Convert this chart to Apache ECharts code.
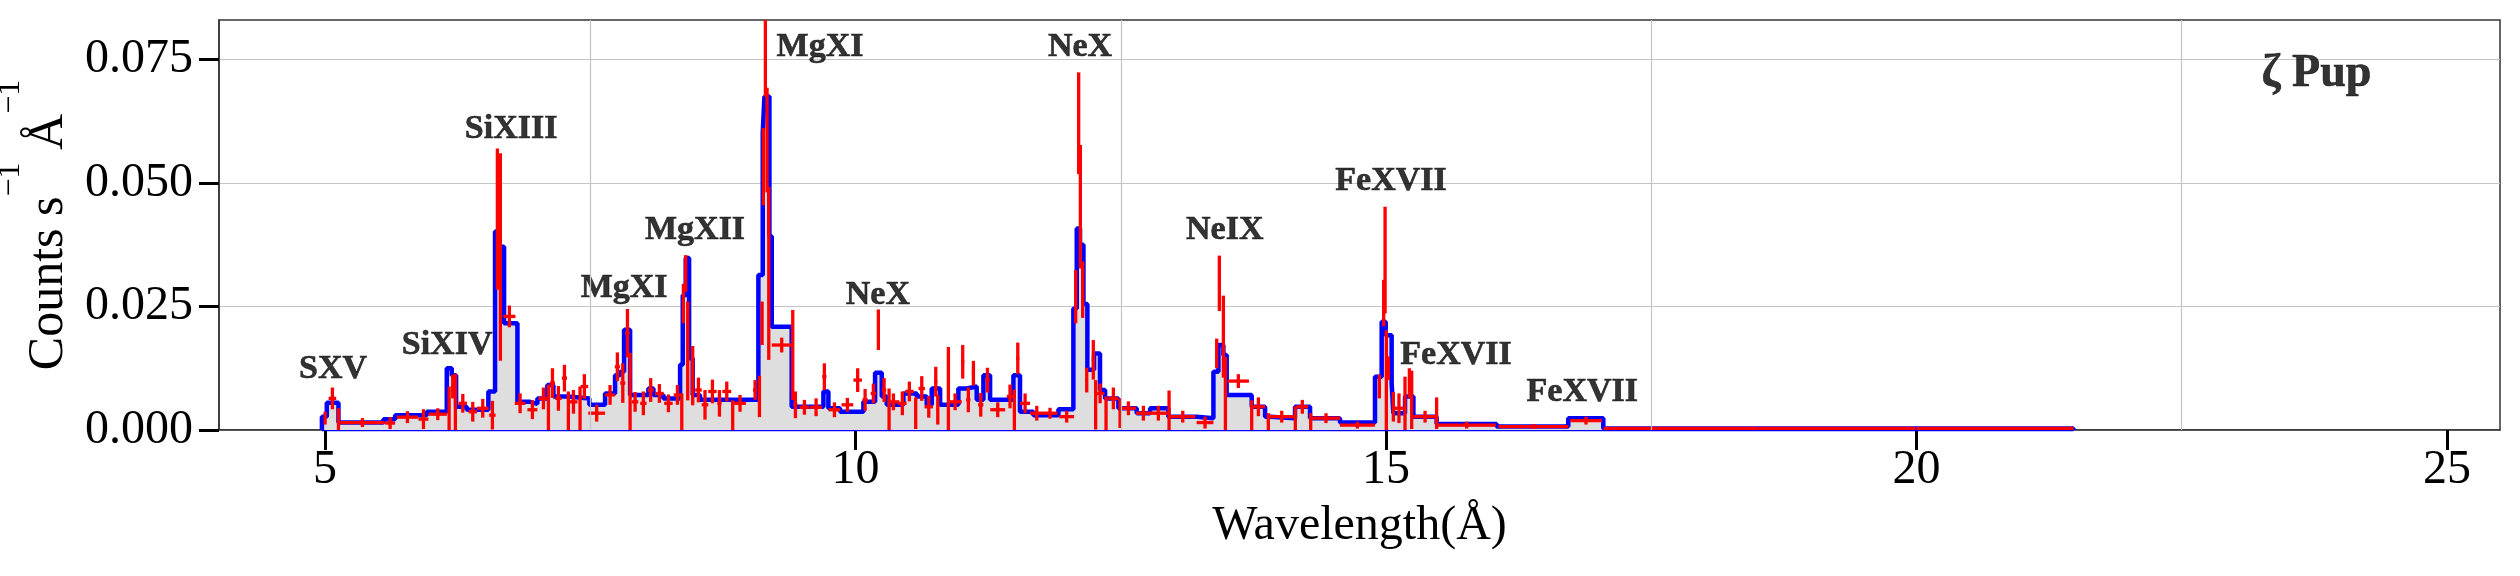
<!DOCTYPE html>
<html>
<head>
<meta charset="utf-8">
<script src="https://cdn.jsdelivr.net/npm/echarts@6/dist/echarts.min.js"></script>
<style>
html, body { margin: 0; padding: 0; background: #fff; }
#spectrum { width: 2520px; height: 576px; }
</style>
</head>
<body>
<div id="spectrum"></div>
<script>
// model spectrum (blue histogram): bin edges (Å) and flux in each bin
const modelEdges = [4.97, 5.016, 5.126, 5.55, 5.66, 5.958, 6.147, 6.194, 6.235, 6.335, 6.539, 6.602, 6.643, 6.687, 6.813, 6.932,
  7.001, 7.095, 7.152, 7.293, 7.491, 7.639, 7.733, 7.78, 7.818, 7.875, 8.047, 8.095, 8.189, 8.346, 8.371, 8.399, 8.431, 8.465,
  8.534, 9.084, 9.125, 9.141, 9.188, 9.21, 9.398, 9.697, 9.744, 9.854, 10.074, 10.184, 10.247, 10.294, 10.451, 10.577, 10.671,
  10.718, 10.797, 10.969, 11.048, 11.142, 11.205, 11.268, 11.488, 11.55, 11.676, 11.912, 12.053, 12.085, 12.116, 12.148, 12.185,
  12.248, 12.304, 12.352, 12.477, 12.65, 12.776, 12.948, 13.216, 13.373, 13.42, 13.467, 13.498, 13.734, 13.86, 13.907, 14.142,
  14.284, 14.566, 14.896, 14.959, 14.997, 15.053, 15.069, 15.179, 15.258, 15.477, 16.043, 16.718, 17.048, 21.48]
const modelFlux = [0.0027, 0.0055, 0.0015, 0.0022, 0.0030, 0.0037, 0.0125, 0.0111, 0.0047, 0.0041, 0.0078, 0.0402, 0.0371, 0.0216,
  0.0057, 0.0053, 0.0064, 0.0091, 0.0068, 0.0064, 0.0051, 0.0074, 0.0111, 0.0118, 0.0203, 0.0071, 0.0084, 0.0071, 0.0064, 0.0132,
  0.0273, 0.0348, 0.0145, 0.0071, 0.0061, 0.0314, 0.0601, 0.0675, 0.0392, 0.0209, 0.0047, 0.0078, 0.0044, 0.0037, 0.0057, 0.0116,
  0.0068, 0.0051, 0.0074, 0.0068, 0.0051, 0.0084, 0.0051, 0.0084, 0.0088, 0.0061, 0.0111, 0.0061, 0.0111, 0.0037, 0.0030, 0.0042,
  0.0246, 0.0408, 0.0375, 0.0255, 0.0122, 0.0155, 0.0081, 0.0064, 0.0044, 0.0034, 0.0044, 0.0027, 0.0024, 0.0118, 0.0172, 0.0152,
  0.0071, 0.0047, 0.0027, 0.0024, 0.0047, 0.0024, 0.0015, 0.0108, 0.0219, 0.0192, 0.0095, 0.0034, 0.0068, 0.0027, 0.0012, 0.0007,
  0.0024, 0.0003]

// observed spectrum (red crosses): bin centre, half bin width, flux, 1-sigma error
const dataWave = [5.0, 5.069, 5.126, 5.352, 5.613, 5.776, 5.927, 6.062, 6.169, 6.203, 6.228, 6.298, 6.392, 6.486, 6.577, 6.624,
  6.652, 6.737, 6.838, 6.954, 7.058, 7.105, 7.143, 7.199, 7.256, 7.293, 7.341, 7.403, 7.444, 7.56, 7.686, 7.755, 7.806, 7.85,
  7.875, 7.922, 8.0, 8.069, 8.151, 8.236, 8.321, 8.362, 8.377, 8.399, 8.418, 8.465, 8.519, 8.581, 8.651, 8.717, 8.786, 8.842,
  8.911, 9.053, 9.094, 9.119, 9.131, 9.15, 9.166, 9.182, 9.304, 9.408, 9.433, 9.518, 9.628, 9.706, 9.801, 9.923, 10.02, 10.09,
  10.168, 10.215, 10.269, 10.316, 10.357, 10.441, 10.507, 10.567, 10.624, 10.69, 10.756, 10.775, 10.875, 10.938, 11.01, 11.063,
  11.111, 11.18, 11.243, 11.34, 11.456, 11.497, 11.529, 11.598, 11.708, 11.833, 11.99, 12.075, 12.103, 12.119, 12.141, 12.179,
  12.241, 12.263, 12.305, 12.361, 12.43, 12.493, 12.572, 12.713, 12.854, 12.955, 13.084, 13.294, 13.404, 13.429, 13.467, 13.486,
  13.608, 13.734, 13.797, 13.891, 14.017, 14.145, 14.211, 14.29, 14.434, 14.73, 14.937, 14.978, 14.991, 15.003, 15.022, 15.069,
  15.122, 15.179, 15.22, 15.242, 15.368, 15.477, 15.76, 16.389, 16.885, 17.78, 19.25, 20.74]
const dataHalfWidth = [0.01, 0.036, 0.01, 0.21, 0.047, 0.1, 0.047, 0.086, 0.01, 0.015, 0.01, 0.04, 0.04, 0.055, 0.03, 0.012,
  0.012, 0.057, 0.05, 0.047, 0.047, 0.01, 0.024, 0.03, 0.024, 0.01, 0.038, 0.01, 0.036, 0.079, 0.047, 0.024, 0.024, 0.02,
  0.01, 0.03, 0.03, 0.028, 0.04, 0.04, 0.035, 0.008, 0.01, 0.01, 0.01, 0.012, 0.031, 0.031, 0.04, 0.02, 0.042, 0.01,
  0.055, 0.02, 0.01, 0.008, 0.006, 0.006, 0.006, 0.006, 0.094, 0.01, 0.02, 0.047, 0.055, 0.02, 0.055, 0.055, 0.04, 0.025,
  0.025, 0.01, 0.02, 0.01, 0.055, 0.04, 0.04, 0.01, 0.03, 0.04, 0.015, 0.01, 0.01, 0.063, 0.015, 0.02,
  0.015, 0.025, 0.02, 0.07, 0.03, 0.01, 0.015, 0.047, 0.063, 0.07, 0.07, 0.008, 0.008, 0.008, 0.008, 0.012,
  0.015, 0.01, 0.04, 0.01, 0.047, 0.01, 0.07, 0.07, 0.086, 0.01, 0.118, 0.079, 0.01, 0.008, 0.01, 0.008,
  0.1, 0.01, 0.063, 0.015, 0.118, 0.01, 0.055, 0.01, 0.134, 0.165, 0.01, 0.006, 0.006, 0.006, 0.01, 0.012,
  0.055, 0.008, 0.008, 0.008, 0.11, 0.01, 0.275, 0.33, 0.149, 0.73, 0.74, 0.74]
const dataFlux = [0.0024, 0.0064, 0.0022, 0.0015, 0.0014, 0.0026, 0.0022, 0.0032, 0.0044, 0.0088, 0.0057, 0.0054, 0.0037, 0.0044,
  0.0030, 0.0427, 0.0350, 0.0230, 0.0054, 0.0041, 0.0064, 0.0046, 0.0095, 0.0064, 0.0105, 0.0039, 0.0057, 0.0044, 0.0088,
  0.0034, 0.0071, 0.0128, 0.0095, 0.0196, 0.0078, 0.0057, 0.0054, 0.0081, 0.0074, 0.0054, 0.0071, 0.0037, 0.0256, 0.0317,
  0.0160, 0.0110, 0.0081, 0.0051, 0.0078, 0.0054, 0.0078, 0.0030, 0.0054, 0.0081, 0.0068, 0.0216, 0.0533, 0.0753, 0.0587,
  0.0317, 0.0172, 0.0152, 0.0051, 0.0046, 0.0046, 0.0108, 0.0041, 0.0051, 0.0101, 0.0061, 0.0074, 0.0203, 0.0081, 0.0042,
  0.0057, 0.0054, 0.0078, 0.0034, 0.0084, 0.0047, 0.0098, 0.0041, 0.0084, 0.0057, 0.0138, 0.0061, 0.0115, 0.0051, 0.0101,
  0.0041, 0.0068, 0.0041, 0.0145, 0.0054, 0.0034, 0.0034, 0.0027, 0.0270, 0.0621, 0.0452, 0.0284, 0.0101, 0.0142, 0.0051,
  0.0074, 0.0034, 0.0064, 0.0034, 0.0044, 0.0034, 0.0034, 0.0040, 0.0027, 0.0015, 0.0155, 0.0297, 0.0189, 0.0074, 0.0099,
  0.0030, 0.0047, 0.0017, 0.0027, 0.0024, 0.0047, 0.0017, 0.0024, 0.0010, 0.0088, 0.0257, 0.0344, 0.0101, 0.0125, 0.0047,
  0.0044, 0.0054, 0.0095, 0.0061, 0.0027, 0.0034, 0.0010, 0.0007, 0.0019, 0.0003, 0.0003, 0.0003]
const dataErr = [0.0013, 0.0022, 0.0022, 0.0009, 0.0012, 0.0012, 0.0020, 0.0012, 0.0044, 0.0024, 0.0057, 0.0019, 0.0020, 0.0019,
  0.0029, 0.0143, 0.0210, 0.0022, 0.0020, 0.0019, 0.0022, 0.0046, 0.0030, 0.0025, 0.0027, 0.0039, 0.0024, 0.0044, 0.0025,
  0.0017, 0.0020, 0.0029, 0.0040, 0.0049, 0.0078, 0.0020, 0.0024, 0.0024, 0.0019, 0.0018, 0.0020, 0.0037, 0.0040, 0.0037,
  0.0100, 0.0060, 0.0025, 0.0030, 0.0024, 0.0027, 0.0020, 0.0030, 0.0017, 0.0020, 0.0042, 0.0044, 0.0078, 0.0078, 0.0106,
  0.0175, 0.0015, 0.0091, 0.0027, 0.0015, 0.0018, 0.0027, 0.0015, 0.0014, 0.0024, 0.0022, 0.0020, 0.0041, 0.0024, 0.0042,
  0.0017, 0.0024, 0.0020, 0.0032, 0.0025, 0.0022, 0.0030, 0.0030, 0.0084, 0.0017, 0.0034, 0.0025, 0.0025, 0.0024, 0.0025,
  0.0015, 0.0024, 0.0041, 0.0032, 0.0020, 0.0015, 0.0011, 0.0012, 0.0054, 0.0103, 0.0125, 0.0057, 0.0025, 0.0040, 0.0050,
  0.0020, 0.0034, 0.0022, 0.0030, 0.0014, 0.0015, 0.0015, 0.0040, 0.0012, 0.0012, 0.0030, 0.0056, 0.0083, 0.0074, 0.0014,
  0.0030, 0.0019, 0.0017, 0.0012, 0.0024, 0.0014, 0.0017, 0.0010, 0.0007, 0.0024, 0.0047, 0.0108, 0.0101, 0.0024, 0.0030,
  0.0030, 0.0054, 0.0030, 0.0059, 0.0012, 0.0032, 0.0007, 0.0005, 0.0008, 0.0002, 0.0002, 0.0002]

// line identifications
const lineNames = ['SXV', 'SiXIV', 'SiXIII', 'MgXI', 'MgXII', 'MgXI', 'NeX', 'NeX', 'NeIX', 'FeXVII', 'FeXVII', 'FeXVII']
const lineWave = [5.075, 6.15, 6.753, 7.818, 8.487, 9.665, 10.21, 12.116, 13.48, 15.047, 15.66, 16.85]
const lineFlux = [0.0123, 0.0172, 0.0609, 0.0287, 0.0405, 0.0775, 0.0273, 0.0775, 0.0405, 0.0504, 0.0152, 0.0077]

const xTicks = [5, 10, 15, 20, 25]
const yTicks = [0, 0.025, 0.05, 0.075]
const xGrid = [7.5, 12.5, 17.5, 22.5]

const FONT = 'Liberation Serif'
const yMax = 0.083

const chart = echarts.init(document.getElementById('spectrum'))

// step line through the bin edges, closed down to zero at both ends
const nBins = modelFlux.length
const modelLine = [[modelEdges[0], 0]]
modelEdges.forEach((e, i) => {
  modelLine.push([e, modelFlux[Math.min(i, nBins - 1)]])
})
modelLine.push([modelEdges[nBins], 0])

const crosses = dataWave.map((w, i) => [w, dataFlux[i], dataHalfWidth[i], dataErr[i]])

const labels = lineNames.map((n, i) => ({ name: n, value: [lineWave[i], lineFlux[i]] }))
labels.push({ name: 'ζ Pup', value: [23.77, 0.072], label: { fontSize: 46 } })

const option = {
  animation: false,
  grid: {
    left: 219,
    right: 20,
    top: 20,
    bottom: 146,
    outerBoundsMode: 'none',
    containLabel: false,
    show: true,
    borderColor: '#333',
    borderWidth: 1.5
  },
  xAxis: {
    type: 'value',
    min: 4,
    max: 25.5,
    name: 'Wavelength(Å)',
    nameLocation: 'middle',
    nameGap: 72,
    nameTextStyle: { fontFamily: FONT, fontSize: 48, color: '#000' },
    axisLine: { show: true, onZero: false, lineStyle: { color: '#333', width: 1.5 } },
    axisTick: { show: true, customValues: xTicks, length: 20, lineStyle: { color: '#000', width: 3 } },
    axisLabel: { customValues: xTicks, fontFamily: FONT, fontSize: 48, color: '#000', margin: 16 },
    splitLine: { show: false }
  },
  yAxis: {
    type: 'value',
    min: 0,
    max: yMax,
    interval: 0.025,
    name: '{a|Counts s}{s|−1}{a| Å}{s|−1}',
    nameLocation: 'middle',
    nameGap: 131,
    nameTextStyle: {
      fontFamily: FONT,
      color: '#000',
      rich: {
        a: { fontFamily: FONT, fontSize: 50, lineHeight: 80, verticalAlign: 'bottom', color: '#000' },
        s: { fontFamily: FONT, fontSize: 32, lineHeight: 30, verticalAlign: 'top', color: '#000' }
      }
    },
    axisLine: { show: true, lineStyle: { color: '#333', width: 1.5 } },
    axisTick: { show: true, customValues: yTicks, length: 20, lineStyle: { color: '#000', width: 3 } },
    axisLabel: {
      customValues: yTicks,
      fontFamily: FONT,
      fontSize: 48,
      color: '#000',
      margin: 26,
      formatter: v => v.toFixed(3)
    },
    splitLine: { show: true, lineStyle: { color: '#c4c4c4', width: 1.2 } }
  },
  series: [
    {
      // blue base line of the model outline, plus the vertical grid lines
      type: 'line',
      z: 1,
      data: [[modelEdges[0], 0], [modelEdges[nBins], 0]],
      symbol: 'none',
      lineStyle: { color: '#0000ff', width: 3 },
      markLine: {
        silent: true,
        symbol: 'none',
        label: { show: false },
        lineStyle: { color: '#c4c4c4', width: 1.2, type: 'solid' },
        data: xGrid.map(v => ({ xAxis: v }))
      }
    },
    {
      name: 'model',
      type: 'line',
      z: 2,
      step: 'end',
      data: modelLine,
      symbol: 'none',
      lineStyle: { color: '#0000ff', width: 4.5 },
      areaStyle: { color: '#dedede', opacity: 1 }
    },
    {
      name: 'data',
      type: 'custom',
      z: 3,
      clip: true,
      data: crosses,
      renderItem: (params, api) => {
        const x = api.value(0)
        const y = api.value(1)
        const hw = api.value(2)
        const e = api.value(3)
        const left = api.coord([x - hw, y])
        const right = api.coord([x + hw, y])
        const top = api.coord([x, Math.min(y + e, yMax)])
        const bottom = api.coord([x, Math.max(y - e, 0)])
        const style = { stroke: '#ff0000', lineWidth: 3.3 }
        return {
          type: 'group',
          children: [
            { type: 'line', shape: { x1: left[0], y1: left[1], x2: right[0], y2: right[1] }, style },
            { type: 'line', shape: { x1: top[0], y1: top[1], x2: bottom[0], y2: bottom[1] }, style }
          ]
        }
      }
    },
    {
      name: 'ions',
      type: 'scatter',
      z: 4,
      symbolSize: 1,
      itemStyle: { color: 'rgba(0,0,0,0)' },
      data: labels,
      label: {
        show: true,
        position: 'inside',
        formatter: p => p.name,
        fontFamily: FONT,
        fontWeight: 'bold',
        fontSize: 34,
        color: '#000',
        textBorderColor: '#000',
        textBorderWidth: 0.6
      }
    }
  ]
}

chart.setOption(option)
</script>
</body>
</html>
